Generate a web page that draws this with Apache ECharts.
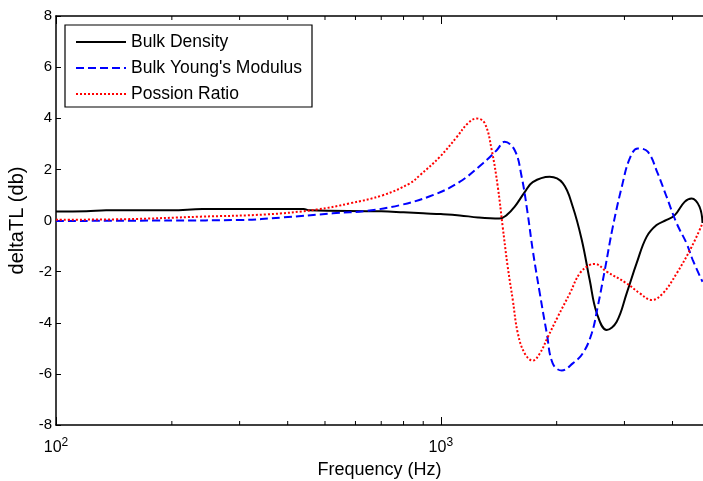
<!DOCTYPE html>
<html><head><meta charset="utf-8">
<script src="https://cdn.jsdelivr.net/npm/echarts@6/dist/echarts.min.js"></script>
<style>html,body{margin:0;padding:0;background:#fff}#c{width:703px;height:481px}</style>
</head><body><div id="c"></div>
<script>
const seriesNames = ['Bulk Density', "Bulk Young's Modulus", 'Possion Ratio'];
const bulkDensity = [[100,0.35],[120,0.36],[135,0.40],[200,0.40],[240,0.45],[440,0.45],[455,0.40],[700,0.36],[800,0.32],[900,0.28],[1000,0.25],[1120,0.2],[1250,0.12],[1420,0.08],[1480,0.2],[1556,0.54],[1650,1.1],[1733,1.5],[1918,1.71],[2074,1.46],[2202,0.54],[2325,-0.77],[2437,-2.33],[2542,-3.62],[2698,-4.28],[2864,-3.96],[3040,-2.85],[3227,-1.67],[3425,-0.64],[3636,-0.18],[3860,0.02],[4055,0.21],[4300,0.73],[4485,0.86],[4700,0.54],[4786,-0.1]];
const youngsModulus = [[100,-0.02],[200,0],[300,0.02],[389,0.12],[524,0.28],[642,0.38],[783,0.6],[953,0.99],[1119,1.51],[1285,2.23],[1397,2.75],[1465,3.08],[1556,2.75],[1622,1.71],[1681,0.28],[1733,-1.16],[1808,-2.85],[1885,-4.41],[1953,-5.59],[2062,-5.87],[2202,-5.59],[2338,-5.2],[2467,-4.41],[2557,-3.37],[2667,-1.94],[2798,-0.25],[2953,1.32],[3097,2.43],[3249,2.82],[3449,2.69],[3661,1.84],[3860,0.93],[4100,-0.11],[4352,-0.9],[4516,-1.55],[4786,-2.4]];
const poissonRatio = [[100,0.03],[150,0.05],[237,0.15],[353,0.24],[476,0.43],[580,0.67],[707,0.99],[830,1.45],[882,1.77],[994,2.49],[1101,3.27],[1175,3.80],[1240,3.99],[1301,3.80],[1356,2.75],[1406,1.32],[1448,-0.25],[1492,-1.81],[1538,-3.11],[1585,-4.41],[1652,-5.2],[1733,-5.48],[1808,-5.2],[1898,-4.55],[2014,-3.76],[2164,-2.85],[2296,-2.07],[2437,-1.74],[2512,-1.7],[2698,-2.0],[3040,-2.46],[3289,-2.85],[3533,-3.11],[3776,-2.85],[4100,-2.07],[4485,-1.03],[4786,-0.11]];
const minorTicks = [200,300,400,500,600,700,800,900,2000,3000,4000];
const xMin = 100, xMax = 4800;
const yMin = -8, yMax = 8, yStep = 2;

const FONT = 'Liberation Sans, Arial, sans-serif';
const chart = echarts.init(document.getElementById('c'), null, {renderer:'canvas'});
const axisLine = {show:true, onZero:false, lineStyle:{color:'#000', width:1.5}};
const isPow = v => Math.abs(Math.log10(v) - Math.round(Math.log10(v))) < 1e-6;
chart.setOption({
  animation:false,
  backgroundColor:'#fff',
  grid:{left:56, right:0, top:16, bottom:56, containLabel:false, outerBoundsMode:'none'},
  legend:{
    orient:'vertical', left:65, top:25, padding:[8,10,4,10],
    itemWidth:50, itemHeight:15, itemGap:8,
    borderColor:'#000', borderWidth:1.2, backgroundColor:'#fff',
    itemStyle:{opacity:0},
    textStyle:{fontFamily:FONT, fontSize:17.5, color:'#000'},
    data:seriesNames
  },
  xAxis:[{
    type:'log', logBase:10, min:xMin, max:xMax,
    name:'Frequency (Hz)', nameLocation:'middle', nameGap:35,
    nameTextStyle:{fontFamily:FONT, fontSize:18, color:'#000'},
    axisLine:axisLine,
    axisTick:{show:true, inside:true, length:8, lineStyle:{color:'#000', width:1}},
    splitLine:{show:false},
    axisLabel:{fontFamily:FONT, fontSize:16, color:'#000', margin:12, showMaxLabel:false,
      formatter:v => isPow(v) ? '10{s|' + Math.round(Math.log10(v)) + '}' : '',
      rich:{s:{fontFamily:FONT, fontSize:12, color:'#000', verticalAlign:'bottom', padding:[0,0,10,0]}}},
  },{
    type:'log', logBase:10, min:xMin, max:xMax, position:'top',
    axisLine:axisLine,
    axisTick:{show:true, inside:true, length:8, lineStyle:{color:'#000', width:1}},
    axisLabel:{show:false}, splitLine:{show:false}
  }],
  yAxis:{
    type:'value', min:yMin, max:yMax, interval:yStep,
    name:'deltaTL (db)', nameLocation:'middle', nameGap:26,
    nameTextStyle:{fontFamily:FONT, fontSize:20, color:'#000'},
    axisLine:axisLine,
    axisTick:{show:true, inside:true, length:5, lineStyle:{color:'#000', width:1}},
    splitLine:{show:false},
    axisLabel:{fontFamily:FONT, fontSize:15, color:'#000', margin:4}
  },
  series:[
    {name:seriesNames[0], type:'line', data:bulkDensity, smooth:0.4, symbol:'none',
      lineStyle:{color:'#000', width:2, type:'solid'}, itemStyle:{color:'#000'}, z:3},
    {name:seriesNames[1], type:'line', data:youngsModulus, smooth:0.4, symbol:'none',
      lineStyle:{color:'#0000ff', width:2, type:[8,4]}, itemStyle:{color:'#0000ff'}, z:3},
    {name:seriesNames[2], type:'line', data:poissonRatio, smooth:0.4, symbol:'none',
      lineStyle:{color:'#ff0000', width:2, type:[2,2]}, itemStyle:{color:'#ff0000'}, z:3},
    {type:'custom', silent:true, clip:false, z:5, legendHoverLink:false,
      data:minorTicks.map(v => [v]),
      renderItem:(params, api) => {
        const b = api.coord([api.value(0), yMin]);
        const t = api.coord([api.value(0), yMax]);
        const st = {stroke:'#000', lineWidth:1};
        return {type:'group', children:[
          {type:'line', shape:{x1:b[0], y1:b[1], x2:b[0], y2:b[1]-4}, style:st},
          {type:'line', shape:{x1:t[0], y1:t[1], x2:t[0], y2:t[1]+4}, style:st}
        ]};
      }}
  ]
});
</script></body></html>
